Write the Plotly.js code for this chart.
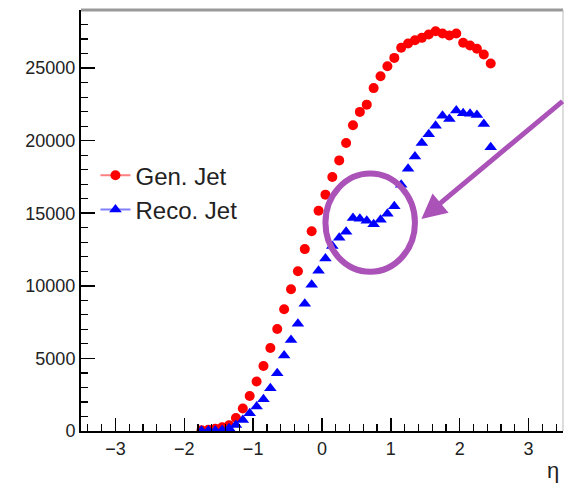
<!DOCTYPE html>
<html>
<head>
<meta charset="utf-8">
<script src="https://cdn.plot.ly/plotly-3.0.1.min.js"></script>
<style>html,body{margin:0;padding:0;background:#fff;}#chart{width:564px;height:486px;}</style>
</head>
<body>
<div id="chart"></div>
<script>
// eta bin centres
const eta = [-1.75,-1.65,-1.55,-1.45,-1.35,-1.25,-1.15,-1.05,-0.95,-0.85,-0.75,-0.65,-0.55,-0.45,-0.35,-0.25,-0.15,-0.05,
  0.05,0.15,0.25,0.35,0.45,0.55,0.65,0.75,0.85,0.95,1.05,1.15,1.25,1.35,1.45,1.55,1.65,1.75,1.85,1.95,2.05,2.15,2.25,2.35,2.45];
// Gen. Jet counts
const genJet = [50,80,150,250,400,900,1550,2410,3410,4480,5720,7030,8390,9770,11010,12530,13760,15170,
  16280,17500,18640,19840,21060,21980,22480,23620,24440,25130,25700,26400,26690,26920,27080,27310,27540,27380,27240,27380,26740,26550,26330,25930,25310];
// Reco. Jet counts
const recoJet = [20,30,40,70,190,410,760,1220,1680,2190,2950,3980,5200,6270,7380,8760,10070,11040,
  11880,12740,13310,13730,14670,14620,14480,14240,14550,14970,15480,16970,18070,18900,19840,20440,21020,21710,21500,22070,21880,21860,21760,21140,19550];

const seriesNames = ['Gen. Jet', 'Reco. Jet'];
const xTitle = 'η';

// annotation geometry (highlight circle + arrow)
const circleX = [0.05, 1.35];
const circleY = [10970, 17730];
const arrowTip = [1.443, 14600];
const arrowTail = [160, -119];
const purple = '#ab52b9';

const font = 'Liberation Sans, Arial, Helvetica, sans-serif';

const traces = [
  {x: eta, y: genJet, type: 'scatter', mode: 'markers', showlegend: false,
   marker: {symbol: 'circle', size: 10, color: '#ff0000'}},
  {x: eta, y: recoJet, type: 'scatter', mode: 'markers', showlegend: false,
   marker: {symbol: 'triangle-up', size: 11, color: '#0000ff'}},
  {x: [null], y: [null], type: 'scatter', mode: 'lines+markers', name: seriesNames[0],
   marker: {symbol: 'circle', size: 10, color: '#ff0000'}, line: {color: '#ff8080', width: 2}},
  {x: [null], y: [null], type: 'scatter', mode: 'lines+markers', name: seriesNames[1],
   marker: {symbol: 'triangle-up', size: 11, color: '#0000ff'}, line: {color: '#8080ff', width: 2}}
];

const layout = {
  width: 564, height: 486,
  margin: {l: 81, r: 1, t: 10, b: 55},
  paper_bgcolor: '#fff', plot_bgcolor: '#fff',
  font: {family: font, color: '#222'},
  showlegend: true,
  legend: {x: 0.03, y: 0.66, xanchor: 'left', yanchor: 'top', bgcolor: 'rgba(0,0,0,0)',
           font: {size: 24, family: font, color: '#222'}, tracegroupgap: 0},
  xaxis: {range: [-3.5, 3.5], showgrid: false, zeroline: false,
          showline: true, linecolor: '#000', linewidth: 2,
          ticks: 'inside', ticklen: 13, tickwidth: 1.5, tickcolor: '#000',
          dtick: 1, tick0: 0, tickfont: {size: 18, family: font, color: '#222'},
          minor: {ticks: 'inside', ticklen: 7, dtick: 0.2, tickcolor: '#000', tickwidth: 1.2},
          fixedrange: true},
  yaxis: {range: [0, 29000], showgrid: false, zeroline: false,
          showline: true, linecolor: '#000', linewidth: 2,
          ticks: 'inside', ticklen: 14, tickwidth: 1.5, tickcolor: '#000',
          dtick: 5000, tick0: 0, tickformat: 'd', exponentformat: 'none',
          tickfont: {size: 18, family: font, color: '#222'},
          minor: {ticks: 'inside', ticklen: 7, dtick: 1000, tickcolor: '#000', tickwidth: 1.2},
          fixedrange: true},
  shapes: [
    {type: 'line', xref: 'paper', yref: 'paper', x0: 0, x1: 1, y0: 1, y1: 1,
     line: {color: '#999', width: 3}},
    {type: 'line', xref: 'paper', yref: 'paper', x0: 1, x1: 1, y0: 0, y1: 1,
     line: {color: '#bbb', width: 1}},
    {type: 'circle', xref: 'x', yref: 'y', x0: circleX[0], x1: circleX[1], y0: circleY[0], y1: circleY[1],
     line: {color: purple, width: 6}}
  ],
  annotations: [
    {x: arrowTip[0], y: arrowTip[1], xref: 'x', yref: 'y', ax: arrowTail[0], ay: arrowTail[1],
     text: '', showarrow: true, arrowhead: 2, arrowsize: 1, arrowwidth: 5, arrowcolor: purple},
    {x: 0.995, y: -0.095, xref: 'paper', yref: 'paper', xanchor: 'right', yanchor: 'middle',
     text: xTitle, showarrow: false, font: {size: 22, family: font, color: '#222'}}
  ]
};

Plotly.newPlot('chart', traces, layout, {staticPlot: true, displayModeBar: false});
</script>
</body>
</html>
